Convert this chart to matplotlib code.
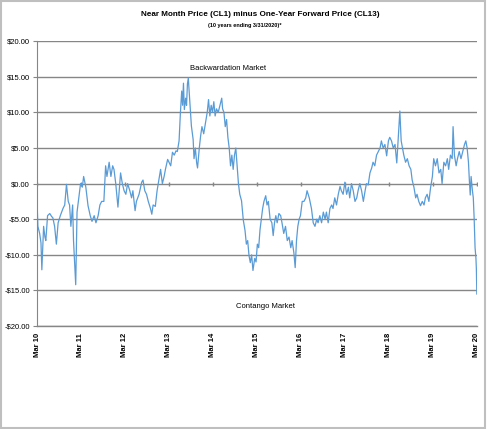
import matplotlib
matplotlib.use('Agg')
import matplotlib.pyplot as plt
from matplotlib.patches import Rectangle

plt.rcParams['font.family'] = ['Liberation Sans Narrow', 'Liberation Sans', 'DejaVu Sans']

# decimal year, spread in $ (CL1 - CL13)
years = [
    2010.17, 2010.19, 2010.23, 2010.26, 2010.28, 2010.32, 2010.35, 2010.37, 2010.41, 2010.46,
    2010.50, 2010.53, 2010.57, 2010.61, 2010.65, 2010.70, 2010.76, 2010.80, 2010.84, 2010.88,
    2010.91, 2010.94, 2010.98, 2011.00, 2011.05, 2011.08, 2011.13, 2011.16, 2011.20, 2011.23,
    2011.28, 2011.33, 2011.38, 2011.42, 2011.47, 2011.51, 2011.56, 2011.60, 2011.64, 2011.69,
    2011.73, 2011.76, 2011.81, 2011.85, 2011.89, 2011.92, 2011.96, 2012.01, 2012.07, 2012.11,
    2012.15, 2012.19, 2012.23, 2012.28, 2012.32, 2012.35, 2012.40, 2012.43, 2012.49, 2012.55,
    2012.58, 2012.62, 2012.66, 2012.70, 2012.75, 2012.78, 2012.81, 2012.86, 2012.90, 2012.94,
    2012.98, 2013.02, 2013.06, 2013.09, 2013.14, 2013.21, 2013.25, 2013.29, 2013.33, 2013.36,
    2013.40, 2013.43, 2013.46, 2013.48, 2013.50, 2013.52, 2013.55, 2013.57, 2013.59, 2013.61,
    2013.64, 2013.66, 2013.68, 2013.72, 2013.74, 2013.77, 2013.80, 2013.82, 2013.86, 2013.89,
    2013.92, 2013.96, 2014.00, 2014.04, 2014.07, 2014.10, 2014.13, 2014.16, 2014.19, 2014.22,
    2014.25, 2014.29, 2014.33, 2014.37, 2014.39, 2014.42, 2014.45, 2014.48, 2014.51, 2014.54,
    2014.57, 2014.60, 2014.63, 2014.66, 2014.69, 2014.72, 2014.75, 2014.78, 2014.82, 2014.86,
    2014.90, 2014.93, 2014.96, 2014.99, 2015.02, 2015.05, 2015.08, 2015.12, 2015.15, 2015.18,
    2015.21, 2015.24, 2015.27, 2015.30, 2015.33, 2015.37, 2015.40, 2015.43, 2015.47, 2015.51,
    2015.54, 2015.57, 2015.60, 2015.63, 2015.67, 2015.71, 2015.74, 2015.78, 2015.82, 2015.86,
    2015.90, 2015.94, 2015.97, 2016.01, 2016.04, 2016.07, 2016.10, 2016.13, 2016.16, 2016.20,
    2016.24, 2016.28, 2016.31, 2016.36, 2016.41, 2016.45, 2016.49, 2016.53, 2016.56, 2016.60,
    2016.64, 2016.68, 2016.72, 2016.75, 2016.79, 2016.83, 2016.87, 2016.90, 2016.94, 2016.98,
    2017.02, 2017.06, 2017.09, 2017.13, 2017.17, 2017.21, 2017.25, 2017.28, 2017.32, 2017.36,
    2017.40, 2017.44, 2017.47, 2017.51, 2017.55, 2017.59, 2017.63, 2017.66, 2017.70, 2017.74,
    2017.78, 2017.81, 2017.85, 2017.89, 2017.93, 2017.97, 2018.00, 2018.04, 2018.08, 2018.12,
    2018.16, 2018.19, 2018.23, 2018.27, 2018.31, 2018.35, 2018.38, 2018.42, 2018.45, 2018.48,
    2018.51, 2018.55, 2018.59, 2018.63, 2018.67, 2018.70, 2018.74, 2018.78, 2018.81, 2018.85,
    2018.89, 2018.93, 2018.97, 2019.00, 2019.04, 2019.08, 2019.12, 2019.16, 2019.19, 2019.23,
    2019.27, 2019.31, 2019.35, 2019.38, 2019.42, 2019.46, 2019.50, 2019.53, 2019.57, 2019.61,
    2019.63, 2019.66, 2019.70, 2019.73, 2019.77, 2019.81, 2019.85, 2019.89, 2019.92, 2019.95,
    2019.98, 2020.00, 2020.02, 2020.04, 2020.07, 2020.09, 2020.11, 2020.13, 2020.15, 2020.16,
    2020.17,
]
spread = [
    -2.4, -6.0, -7.0, -8.3, -12.1, -6.0, -7.5, -8.0, -4.5, -4.2,
    -4.6, -4.8, -6.0, -8.5, -5.5, -4.5, -3.5, -3.0, -0.1, -2.5,
    -3.0, -6.0, -3.0, -8.0, -14.2, -4.0, -1.5, 0.0, -0.5, 1.0,
    -0.5, -3.1, -4.5, -5.3, -4.5, -5.5, -4.5, -3.0, -2.5, -2.5,
    2.5, 1.0, 3.0, 1.0, 2.5, 2.0, 0.0, -3.3, 1.5, 0.0,
    -1.0, -1.5, 0.0, -1.0, -2.0, -1.0, -3.8, -2.5, -1.5, 0.2,
    0.5, -1.0, -1.5, -2.5, -3.5, -4.3, -3.0, -3.2, -1.0, 0.5,
    2.0, 0.0, 1.0, 2.0, 3.4, 2.5, 4.4, 4.0, 4.6, 4.5,
    6.0, 9.9, 13.0, 11.0, 14.1, 10.4, 12.0, 11.0, 14.0, 14.8,
    12.0, 10.0, 8.1, 6.2, 3.5, 5.0, 2.9, 2.2, 5.0, 6.7,
    8.0, 7.0, 8.5, 10.0, 11.8, 9.5, 11.0, 10.0, 11.5, 9.5,
    10.5, 10.0, 11.0, 12.0, 10.5, 10.0, 8.0, 9.0, 6.5, 5.0,
    2.5, 4.0, 2.0, 4.0, 5.0, 2.5, 0.0, -1.5, -2.4, -5.1,
    -6.6, -8.5, -8.0, -10.1, -11.1, -10.0, -12.2, -10.5, -11.0, -8.5,
    -9.0, -6.5, -5.0, -3.5, -2.5, -1.7, -3.0, -2.5, -5.0, -5.5,
    -7.3, -5.5, -4.5, -5.5, -4.2, -4.5, -5.5, -7.0, -6.0, -8.0,
    -7.5, -9.0, -8.0, -9.7, -11.8, -8.0, -6.0, -5.0, -4.5, -2.5,
    -2.5, -2.0, -1.0, -2.0, -3.5, -5.5, -6.0, -5.0, -5.5, -4.5,
    -5.5, -4.0, -5.0, -4.0, -5.5, -3.5, -3.0, -3.5, -2.0, -3.0,
    -1.5, -0.4, -1.0, -1.5, 0.2, -1.5, -0.5, -2.0, 0.0, -1.0,
    -2.5, -2.0, -1.0, 0.0, -1.0, -2.5, -1.0, 0.0, -0.2, 1.5,
    2.2, 3.0, 2.5, 4.0, 4.5, 5.0, 6.0, 5.0, 5.5, 3.9,
    6.0, 6.5, 6.0, 5.0, 5.5, 2.9, 6.0, 10.2, 6.0, 5.0,
    4.0, 3.0, 3.5, 2.5, 2.0, 0.5, -0.5, -2.0, -1.5, -2.5,
    -3.1, -2.5, -3.0, -2.0, -1.5, -2.5, -0.5, 1.0, 3.5, 2.5,
    3.5, 1.5, 2.0, 0.0, 3.0, 2.5, 3.5, 2.0, 4.0, 3.5,
    8.0, 4.0, 2.5, 3.5, 4.5, 3.5, 4.5, 5.5, 6.0, 5.0,
    3.0, 0.5, -1.6, 1.0, -1.0, -2.0, -5.0, -9.0, -10.5, -12.0,
    -15.5,
]

tick_years = [2010.17 + k for k in range(11)]
tick_labels = ['Mar 10', 'Mar 11', 'Mar 12', 'Mar 13', 'Mar 14', 'Mar 15',
               'Mar 16', 'Mar 17', 'Mar 18', 'Mar 19', 'Mar 20']
y_ticks = [20, 15, 10, 5, 0, -5, -10, -15, -20]

fig = plt.figure(figsize=(4.87, 4.29), dpi=100)
ax = fig.add_axes([0.076, 0.240, 0.904, 0.664])

ax.plot(years, spread, color='#5b9bd5', linewidth=0.9)

ax.set_xlim(2010.17, 2020.18)
ax.set_ylim(-20, 20)
ax.set_yticks(y_ticks)
ax.set_yticklabels([('-$%.2f' % -v) if v < 0 else ('$%.2f' % v) for v in y_ticks], fontsize=5.5)
ax.set_xticks(tick_years)
ax.set_xticklabels(tick_labels, rotation=90, fontsize=5.5, fontweight='bold')
ax.tick_params(axis='x', length=0, pad=5)
ax.tick_params(axis='y', length=3, color='#868686', pad=2)

ax.grid(axis='y', color='#868686', linewidth=1)
ax.set_axisbelow(True)
for s in ['top', 'right']:
    ax.spines[s].set_visible(False)
ax.spines['left'].set_color('#868686')
ax.spines['bottom'].set_color('#868686')
ax.spines['bottom'].set_linewidth(1)

# small category ticks on the zero line, as Excel draws them
ax.plot(tick_years, [0] * len(tick_years), linestyle='none', marker='|',
        markersize=3, color='#868686', zorder=1)

ax.text(2014.51, 16.15, 'Backwardation Market', fontsize=5.5, ha='center', va='center')
ax.text(2015.37, -17.2, 'Contango Market', fontsize=5.5, ha='center', va='center')

fig.text(0.535, 0.966, 'Near Month Price (CL1) minus One-Year Forward Price (CL13)',
         fontsize=5.9, fontweight='bold', ha='center', va='center')
fig.text(0.503, 0.941, '(10 years ending 3/31/2020)*', fontsize=4,
         fontweight='bold', ha='center', va='center')

fig.patches.append(Rectangle((0.002, 0.003), 0.994, 0.994, transform=fig.transFigure,
                             fill=False, edgecolor='#bfbfbf', linewidth=1.5))

fig.savefig('out.png', dpi=100)
